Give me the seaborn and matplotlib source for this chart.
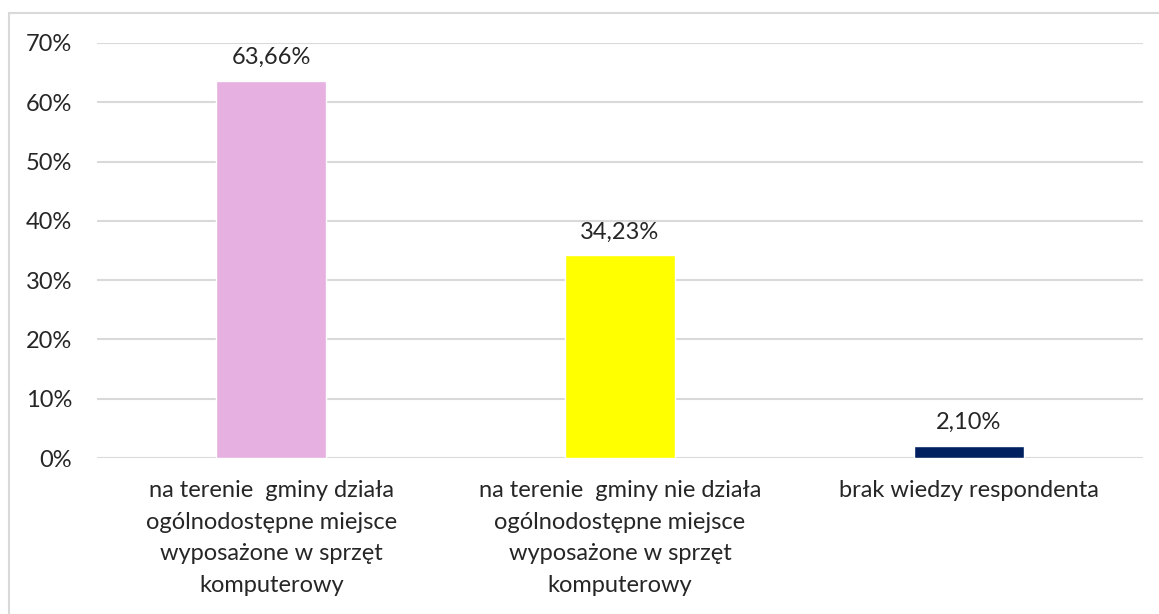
import matplotlib
matplotlib.use("Agg")
import matplotlib.pyplot as plt
import seaborn as sns
import pandas as pd
from matplotlib.patches import Rectangle

# dane
categories = [
    "na terenie  gminy działa\nogólnodostępne miejsce\nwyposażone w sprzęt\nkomputerowy",
    "na terenie  gminy nie działa\nogólnodostępne miejsce\nwyposażone w sprzęt\nkomputerowy",
    "brak wiedzy respondenta",
]
values = [0.6366, 0.3423, 0.0210]
value_labels = ["63,66%", "34,23%", "2,10%"]
colors = ["#E6B0E0", "#FFFF00", "#002060"]
y_ticks = [0, 0.1, 0.2, 0.3, 0.4, 0.5, 0.6, 0.7]
y_tick_labels = ["0%", "10%", "20%", "30%", "40%", "50%", "60%", "70%"]

FS = 17

sns.set_style("white")
plt.rcParams['font.family'] = ['Lato', 'DejaVu Sans']

df = pd.DataFrame({"kategoria": categories, "wartosc": values})

fig = plt.figure(figsize=(11.59, 6.14), dpi=100)
ax = fig.add_axes([0.0837, 0.254, 0.9025, 0.676])

sns.barplot(data=df, x="kategoria", y="wartosc", hue="kategoria",
            palette=colors, legend=False, width=0.315, ax=ax, saturation=1)

ax.set_ylim(0, 0.70)
ax.set_yticks(y_ticks)
ax.set_yticklabels(y_tick_labels, fontsize=FS)
ax.set_xticks(range(len(categories)))
ax.set_xticklabels(categories, fontsize=FS, linespacing=1.62)
ax.tick_params(axis="y", length=0, pad=18)
ax.tick_params(axis="x", length=0, pad=16)
ax.set_xlabel("")
ax.set_ylabel("")

for y in y_ticks:
    ax.axhline(y, color="#D9D9D9", linewidth=1.5, zorder=0)
for s in ax.spines.values():
    s.set_visible(False)

for i, (v, lab) in enumerate(zip(values, value_labels)):
    ax.annotate(lab, (i, v), xytext=(0, 9), textcoords="offset points",
                ha="center", va="bottom", fontsize=FS)

# ramka wykresu
fig.patches.append(Rectangle((9 / 1159, -0.1), 1.2, (614 - 13) / 614 + 0.1,
                             transform=fig.transFigure, fill=False,
                             edgecolor="#D9D9D9", linewidth=1.5))

fig.savefig("out.png", dpi=100)
